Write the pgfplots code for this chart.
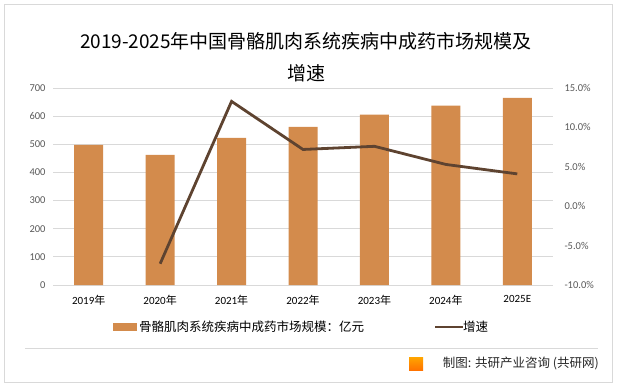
\documentclass[border=0pt]{standalone}
\usepackage{pgfplots}
\pgfplotsset{compat=1.18}
\usepackage{fontspec}
\setmainfont{Carlito}
\newfontfamily\cjk{Noto Sans CJK SC}
\definecolor{barc}{HTML}{D38B4C}
\definecolor{linec}{HTML}{5E4330}
\definecolor{gridc}{HTML}{D9D9D9}
\definecolor{tickc}{HTML}{595959}
\begin{document}
\begin{tikzpicture}[x=1bp,y=1bp]
\useasboundingbox (0,0) rectangle (618,387);
\draw[gridc, line width=0.8bp] (4.5,4.5) rectangle (612,383);
% title
\node[font=\cjk\fontsize{19bp}{22bp}\selectfont, text=black] at (306,346) {2019-2025年中国骨骼肌肉系统疾病中成药市场规模及};
\node[font=\cjk\fontsize{19bp}{22bp}\selectfont, text=black] at (306,314) {增速};
\begin{axis}[
  at={(53bp,102bp)}, anchor=south west,
  scale only axis, width=500bp, height=197bp,
  xmin=-0.5, xmax=6.5, ymin=0, ymax=700,
  ytick={0,100,...,700},
  xtick={0,...,6},
  xticklabels={2019{\cjk 年},2020{\cjk 年},2021{\cjk 年},2022{\cjk 年},2023{\cjk 年},2024{\cjk 年},\raisebox{5bp}{2025E}},
  axis y line*=left, axis x line*=bottom,
  y axis line style={draw=none},
  x axis line style={gridc, line width=0.8bp},
  ymajorgrids, grid style={gridc, line width=0.8bp},
  major tick length=0pt,
  tick label style={font=\fontsize{10.5bp}{12bp}\selectfont, text=tickc},
  xticklabel style={font=\fontsize{11bp}{12bp}\selectfont, text=black, yshift=-7bp},
  yticklabel style={xshift=-4bp},
  /pgf/number format/assume math mode=true,
  ybar, bar width=29bp,
]
\addplot[fill=barc, draw=none] coordinates {(0,498) (1,462) (2,523) (3,562) (4,605) (5,637) (6,665)};
\end{axis}
\begin{axis}[
  at={(53bp,102bp)}, anchor=south west,
  scale only axis, width=500bp, height=197bp,
  xmin=-0.5, xmax=6.5, ymin=-10, ymax=15,
  ytick={-10,-5,...,15},
  axis y line*=right, axis x line=none,
  y axis line style={draw=none},
  major tick length=0pt,
  yticklabel={\pgfmathprintnumber[fixed,fixed zerofill,precision=1]{\tick}\%},
  yticklabel style={anchor=west, xshift=8bp, font=\fontsize{10.5bp}{12bp}\selectfont, text=tickc},
  /pgf/number format/assume math mode=true,
]
\addplot[linec, line width=2.8bp, no markers] coordinates {(1,-7.3) (2,13.3) (3,7.2) (4,7.6) (5,5.3) (6,4.1)};
\end{axis}
% legend
\fill[barc] (113,56) rectangle (137,64);
\node[anchor=west, font=\cjk\fontsize{12.5bp}{14bp}\selectfont, inner sep=0] at (139,60) {骨骼肌肉系统疾病中成药市场规模：亿元};
\draw[linec, line width=2.8bp] (435,60) -- (463,60);
\node[anchor=west, font=\cjk\fontsize{12.5bp}{14bp}\selectfont, inner sep=0] at (463,60) {增速};
% footer
\draw[gridc, line width=0.8bp] (25,39) -- (598,39);
\shade[top color=orange!70!yellow, bottom color=orange!90!red] (409,17) rectangle (423,30);
\node[anchor=east, font=\cjk\fontsize{12.5bp}{14bp}\selectfont, text=black!85, inner sep=0] at (599,23.5) {制图: 共研产业咨询 (共研网)};
\end{tikzpicture}
\end{document}
